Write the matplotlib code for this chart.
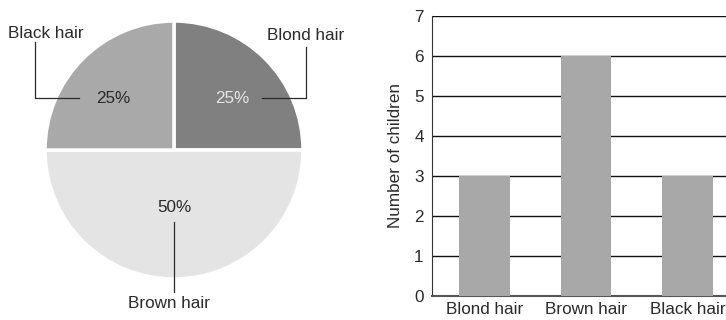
import numpy as np
import matplotlib
matplotlib.use("Agg")
from matplotlib import pyplot as plt

plt.rcParams['font.family'] = ['Liberation Sans', 'DejaVu Sans']

# hair colour survey
pie_labels = ["Blond hair", "Brown hair", "Black hair"]
pie_shares = [25, 50, 25]
pie_colors = ["#808080", "#e4e4e4", "#a9a9a9"]

bar_labels = ["Blond hair", "Brown hair", "Black hair"]
bar_counts = [3, 6, 3]
y_ticks = [0, 1, 2, 3, 4, 5, 6, 7]

text_col = "#2a2a2a"

fig = plt.figure(figsize=(7.26, 3.2), dpi=100)

# ---- pie ----
ax1 = fig.add_axes([0, 0, 348 / 726, 1])
ax1.pie(pie_shares, colors=pie_colors, startangle=90, counterclock=False,
        wedgeprops=dict(edgecolor="white", linewidth=2.5))
ax1.set_xlim(-1.349, 1.349)
ax1.set_ylim(-1.318, 1.163)
ax1.axis("off")

fs = 12.3
# black hair label + leader
ax1.text(-0.99, 0.907, pie_labels[2], ha="center", va="center", fontsize=fs, color=text_col)
ax1.plot([-1.078, -1.078, -0.74], [0.84, 0.403, 0.403], color=text_col, lw=0.9)
ax1.text(-0.47, 0.403, "%d%%" % pie_shares[2], ha="center", va="center", fontsize=fs, color=text_col)
# blond hair label + leader
ax1.text(0.45, 0.403, "%d%%" % pie_shares[0], ha="center", va="center", fontsize=fs, color="#e6e6e6")
ax1.plot([0.68, 1.023, 1.023], [0.403, 0.403, 0.80], color=text_col, lw=0.9)
ax1.text(1.023, 0.891, pie_labels[0], ha="center", va="center", fontsize=fs, color=text_col)
# brown hair label + leader
ax1.text(0, -0.442, "%d%%" % pie_shares[1], ha="center", va="center", fontsize=fs, color=text_col)
ax1.plot([0, 0], [-0.56, -1.10], color=text_col, lw=0.9)
ax1.text(-0.039, -1.19, pie_labels[1], ha="center", va="center", fontsize=fs, color=text_col)

# ---- bars ----
ax2 = fig.add_axes([432 / 726, 24 / 320, 294 / 726, 280 / 320])
x = np.arange(len(bar_counts))
ax2.bar(x, bar_counts, width=0.5, color="#a8a8a8", zorder=3)
ax2.set_xlim(-0.517, 2.38)
ax2.set_ylim(0, 7)
ax2.set_yticks(y_ticks)
ax2.set_xticks(x)
ax2.set_xticklabels(bar_labels)
for y in y_ticks[1:]:
    ax2.axhline(y, color="#111111", lw=1, zorder=1)
ax2.spines["right"].set_visible(False)
ax2.spines["top"].set_visible(False)
ax2.spines["left"].set_color("#333333")
ax2.spines["bottom"].set_color("#555555")
ax2.spines["bottom"].set_linewidth(1.5)
ax2.tick_params(axis="both", length=0, labelsize=fs, colors=text_col)
ax2.tick_params(axis="y", pad=6)
ax2.tick_params(axis="x", pad=4)
ax2.set_ylabel("Number of children", fontsize=fs, color=text_col, labelpad=8)

fig.savefig("out.png", dpi=100)
